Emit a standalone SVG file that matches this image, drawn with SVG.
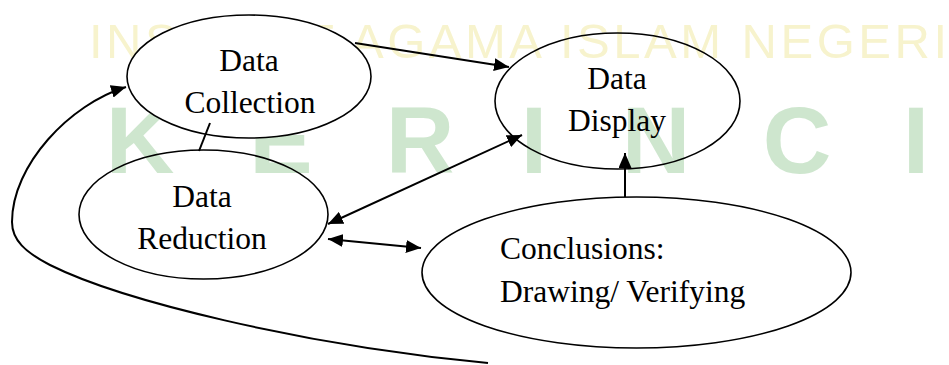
<svg xmlns="http://www.w3.org/2000/svg" width="949" height="365" viewBox="0 0 949 365">
  <style>
    .wm-top { font-family: "Liberation Sans", Arial, sans-serif; font-size: 49px; fill: #f7f3cd; }
    .wm-big { font-family: "Liberation Sans", Arial, sans-serif; font-size: 95px; font-weight: bold; fill: #cee6ce; text-anchor: middle; }
    .node ellipse { stroke: #000; stroke-width: 1.6; fill: none; }
    #collection ellipse { fill: #fff; }
    .label { font-family: "Liberation Serif", "Times New Roman", serif; font-size: 31.5px; fill: #000; }
    .c { text-anchor: middle; }
    .conn { stroke: #000; stroke-width: 2; fill: none; }
  </style>
  <defs>
    <marker id="head" markerUnits="userSpaceOnUse" viewBox="0 0 16 13" markerWidth="16" markerHeight="13" refX="15" refY="6.5" orient="auto-start-reverse">
      <path d="M0,0 L15,6.5 L0,13 z" fill="#000"/>
    </marker>
  </defs>

  <rect width="949" height="365" fill="#fff"/>

  <!-- background watermark -->
  <g id="watermark">
    <text class="wm-top" x="89" y="58" textLength="858" lengthAdjust="spacing">INSTITUT AGAMA ISLAM NEGERI</text>
    <text class="wm-big" x="140" y="173">K</text>
    <text class="wm-big" x="281" y="173">E</text>
    <text class="wm-big" x="420" y="173">R</text>
    <text class="wm-big" x="534" y="173">I</text>
    <text class="wm-big" x="656" y="173">N</text>
    <text class="wm-big" x="797" y="173">C</text>
    <text class="wm-big" x="916" y="173">I</text>
  </g>

  <!-- nodes -->
  <g id="display" class="node">
    <ellipse cx="617.5" cy="101" rx="122.5" ry="68"/>
    <text class="label c" x="617" y="89">Data</text>
    <text class="label c" x="617" y="131">Display</text>
  </g>
  <g id="reduction" class="node">
    <ellipse cx="203.5" cy="214.5" rx="124.5" ry="64.5"/>
    <text class="label c" x="202" y="207">Data</text>
    <text class="label c" x="202" y="249">Reduction</text>
  </g>
  <g id="conclusions" class="node">
    <ellipse cx="636.5" cy="272.5" rx="214.5" ry="75.5"/>
    <text class="label" x="500" y="259">Conclusions:</text>
    <text class="label" x="500" y="302">Drawing/ Verifying</text>
  </g>
  <g id="collection" class="node">
    <ellipse cx="249" cy="76.5" rx="122" ry="61.5"/>
    <text class="label c" x="249" y="71">Data</text>
    <text class="label c" x="250" y="113">Collection</text>
  </g>

  <!-- connectors -->
  <g id="connectors">
    <line class="conn" x1="210" y1="123" x2="199" y2="151"/>
    <line class="conn" x1="355" y1="43" x2="509" y2="67" marker-end="url(#head)"/>
    <line class="conn" x1="328" y1="224" x2="522" y2="135" marker-start="url(#head)" marker-end="url(#head)"/>
    <line class="conn" x1="328" y1="239" x2="421" y2="248" marker-start="url(#head)" marker-end="url(#head)"/>
    <line class="conn" x1="625" y1="197" x2="625" y2="153" marker-end="url(#head)"/>
    <path class="conn" d="M488,363 C300,345 120,300 50,265 C25,252 12,240 12,222 C12,165 70,104 126,87" marker-end="url(#head)"/>
  </g>
</svg>
